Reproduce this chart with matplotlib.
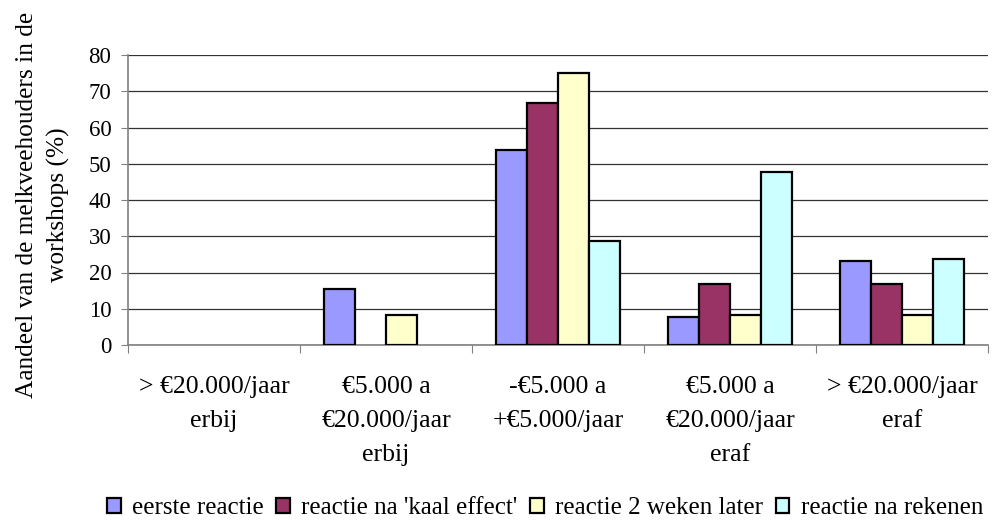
import numpy as np
import matplotlib.pyplot as plt

plt.rcParams['font.family'] = ['Liberation Serif', 'DejaVu Serif']

# categories (income change per year) and series values (%)
categories = ["> €20.000/jaar\nerbij", "€5.000 a\n€20.000/jaar\nerbij", "-€5.000 a\n+€5.000/jaar",
              "€5.000 a\n€20.000/jaar\neraf", "> €20.000/jaar\neraf"]
series_names = ["eerste reactie", "reactie na 'kaal effect'", "reactie 2 weken later", "reactie na rekenen"]
eerste = [0, 15.4, 53.8, 7.7, 23.1]
kaal_effect = [0, 0, 66.7, 16.7, 16.7]
twee_weken = [0, 8.3, 75.0, 8.3, 8.3]
rekenen = [0, 0, 28.6, 47.6, 23.8]
colors = ["#9999FF", "#993366", "#FFFFCC", "#CCFFFF"]

fig = plt.figure(figsize=(10.01, 5.2), dpi=100)
ax = fig.add_axes([128 / 1001, 1 - 345 / 520, 860 / 1001, 290 / 520])

x = np.arange(len(categories))
width = 0.18
for i, (vals, name, col) in enumerate(zip([eerste, kaal_effect, twee_weken, rekenen], series_names, colors)):
    # empty bars get no outline, like Excel
    lw = [1.6 if v > 0 else 0 for v in vals]
    ax.bar(x + (i - 1.5) * width, vals, width, color=col, edgecolor="black",
           linewidth=lw, label=name, zorder=3)

ax.set_xlim(-0.5, len(categories) - 0.5)
ax.set_ylim(0, 80)
ax.set_yticks(range(0, 81, 10))
ax.yaxis.grid(True, color="#333333", linewidth=0.9, zorder=0)

# category boundaries carry the ticks, centers carry the labels
ax.set_xticks(np.arange(-0.5, len(categories), 1.0))
ax.set_xticklabels([])
ax.set_xticks(x, minor=True)
ax.set_xticklabels(categories, minor=True, fontsize=18.5, linespacing=1.72)
ax.tick_params(axis="x", which="minor", length=0, pad=22)
ax.tick_params(axis="x", which="major", length=6, color="#808080", direction="out")
ax.tick_params(axis="y", length=5, color="#808080", labelsize=16.5, pad=7)

for side in ["top", "right"]:
    ax.spines[side].set_visible(False)
for side in ["left", "bottom"]:
    ax.spines[side].set_color("#808080")
    ax.spines[side].set_linewidth(1.2)

fig.text(43 / 1001, 1 - 205 / 520, "Aandeel van de melkveehouders in de\nworkshops (%)",
         rotation=90, ha="center", va="center", fontsize=18.3, linespacing=1.5)

leg = ax.legend(loc="center", bbox_to_anchor=((545 - 128) / 860, (345 - 508) / 290), ncol=4,
                frameon=False, fontsize=18, handlelength=0.55, handleheight=0.55,
                handletextpad=0.45, columnspacing=0.5, borderaxespad=0, borderpad=0)
for h in leg.legend_handles:
    h.set_linewidth(1.6)

fig.savefig("out.png", dpi=100)
